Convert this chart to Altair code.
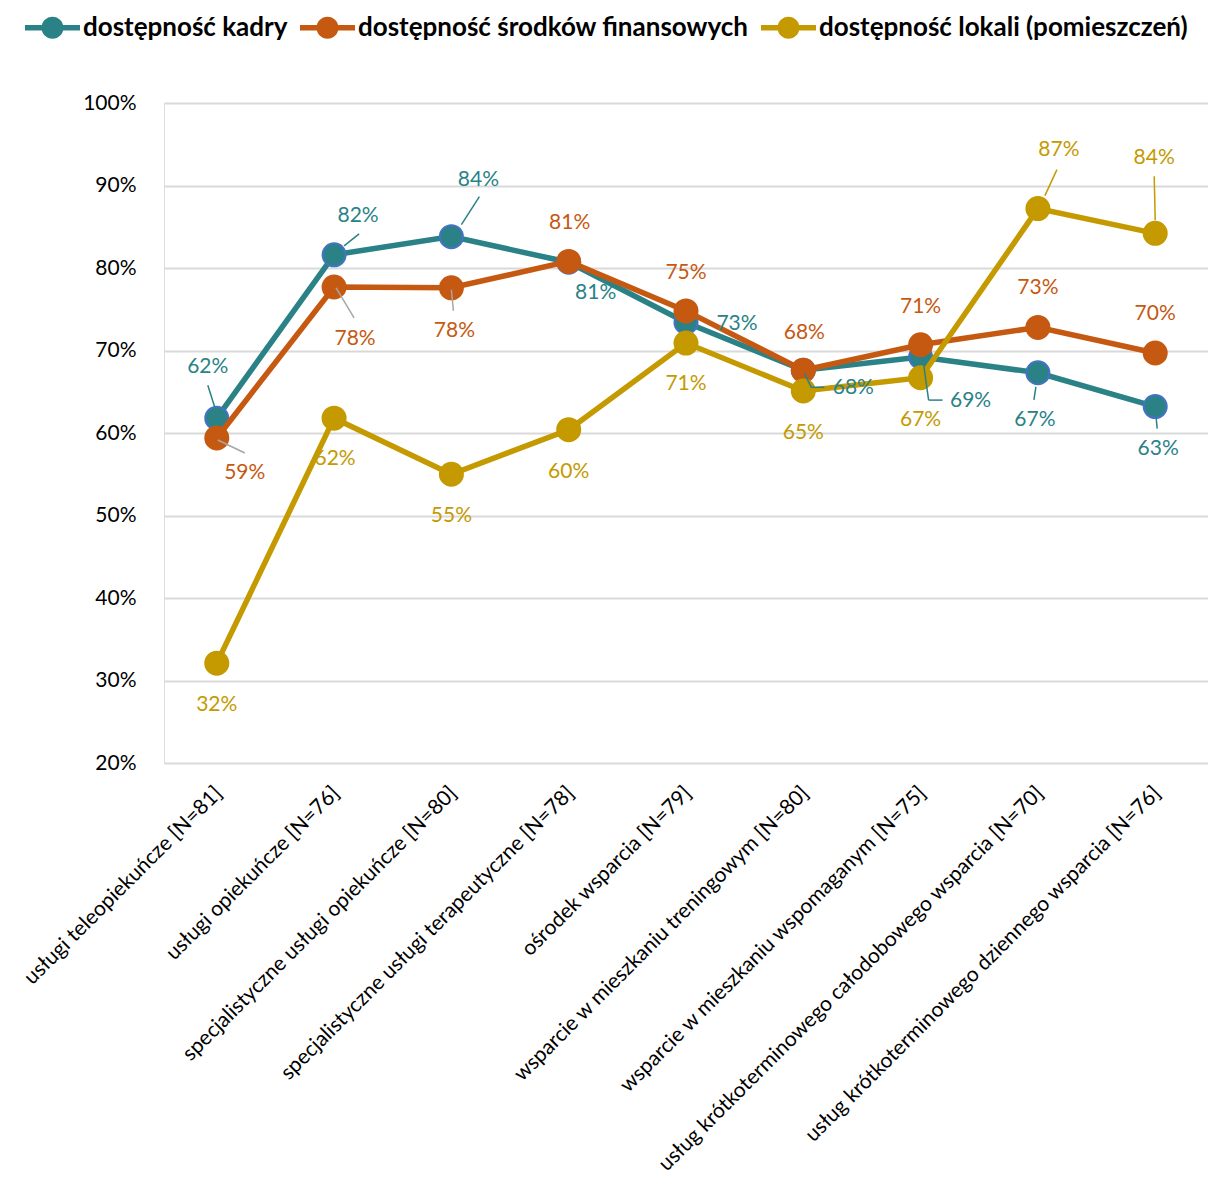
import altair as alt
import pandas as pd

categories = [
    "usługi teleopiekuńcze [N=81]",
    "usługi opiekuńcze [N=76]",
    "specjalistyczne usługi opiekuńcze [N=80]",
    "specjalistyczne usługi terapeutyczne [N=78]",
    "ośrodek wsparcia [N=79]",
    "wsparcie w mieszkaniu treningowym [N=80]",
    "wsparcie w mieszkaniu wspomaganym [N=75]",
    "usług krótkoterminowego całodobowego wsparcia [N=70]",
    "usług krótkoterminowego dziennego wsparcia [N=76]",
]
series_names = [
    "dostępność kadry",
    "dostępność środków finansowych",
    "dostępność lokali (pomieszczeń)",
]
kadry = [61.8, 81.6, 83.8, 80.7, 73.4, 67.6, 69.2, 67.3, 63.2]
finanse = [59.4, 77.7, 77.6, 80.8, 74.8, 67.6, 70.7, 72.8, 69.7]
lokale = [32.1, 61.8, 55.0, 60.4, 70.9, 65.1, 66.7, 87.2, 84.2]
y_ticks = [20, 30, 40, 50, 60, 70, 80, 90, 100]

colors = ["#2A8286", "#C65911", "#C49A00"]
marker_strokes = ["#4472C4", "#C65911", "#C49A00"]
leader_colors = ["#2A8286", "#A6A6A6", "#C49A00"]

# label offsets in pixels (dx, dy) relative to each point
label_offsets = [
    [(-9, -51), (24, -39), (27, -57), (27, 31), (51, 2), (50, 18), (50, 44), (-3, 47), (3, 42)],
    [(28, 35), (21, 52), (3, 43), (1, -38), (0, -38), (1, -37), (0, -38), (0, -39), (0, -39)],
    [(0, 42), (1, 41), (0, 42), (0, 42), (0, 41), (0, 42), (0, 42), (21, -59), (-1, -75)],
]
# leader line polylines (pixel offsets relative to the point)
leaders = {
    (0, 0): [(-9, -33), (-2, -11)],
    (0, 1): [(25, -21), (10, -9)],
    (0, 2): [(28, -40), (10, -12)],
    (0, 5): [(1, 3), (8, 17), (21, 17)],
    (0, 6): [(2, 0), (8, 43), (22, 43)],
    (0, 7): [(-2, 14), (-4, 27)],
    (0, 8): [(1, 12), (2, 22)],
    (1, 0): [(1, 2), (28, 15)],
    (1, 1): [(2, 1), (20, 31)],
    (1, 2): [(0, 2), (2, 23)],
    (2, 7): [(7, -13), (19, -39)],
    (2, 8): [(0, -13), (-1, -57)],
}

rows = []
for s, vals in zip(series_names, [kadry, finanse, lokale]):
    for i, (c, v) in enumerate(zip(categories, vals)):
        rows.append({"series": s, "cat": c, "idx": i, "v": v})
df = pd.DataFrame(rows)

FONT = "Lato"

x_enc = alt.X(
    "cat:N",
    sort=categories,
    title=None,
    scale=alt.Scale(type="point", padding=0.45),
    axis=alt.Axis(
        labelAngle=-45,
        labelFontSize=21,
        labelFont=FONT,
        labelColor="#000000",
        labelLimit=1000,
        labelPadding=19,
        labelOffset=-6,
        ticks=False,
        domain=False,
        grid=False,
    ),
)
y_enc = alt.Y(
    "v:Q",
    title=None,
    scale=alt.Scale(domain=[20, 100], nice=False, zero=False),
    axis=alt.Axis(
        values=y_ticks,
        labelExpr="datum.value + '%'",
        labelFontSize=21,
        labelFont=FONT,
        labelColor="#000000",
        labelPadding=28,
        ticks=False,
        domain=False,
        grid=True,
        gridColor="#D9D9D9",
        gridWidth=2,
    ),
)
color_scale = alt.Scale(domain=series_names, range=colors)

legend_path = (
    "M-1,-0.1H1V0.1H-1Z "
    "M-0.4,0A0.4,0.4,0,1,1,0.4,0A0.4,0.4,0,1,1,-0.4,0Z"
)
legend = alt.Legend(
    title=None,
    orient="none",
    direction="horizontal",
    legendX=-139,
    legendY=-103,
    symbolType=legend_path,
    symbolSize=3025,
    symbolStrokeWidth=0,
    symbolOpacity=1,
    labelFont=FONT,
    labelFontSize=26,
    labelFontWeight="bold",
    labelColor="#000000",
    labelOffset=3,
    columnPadding=12,
    labelLimit=1000,
)
color_enc = alt.Color("series:N", scale=color_scale, legend=legend)

base = alt.Chart(df).encode(x=x_enc, y=y_enc)
layers = []
for si, s in enumerate(series_names):
    sub = base.transform_filter(alt.datum.series == s)
    line = sub.mark_line(strokeWidth=5.5).encode(color=color_enc)
    pts = sub.mark_circle(
        size=530, opacity=1, stroke=marker_strokes[si], strokeWidth=2
    ).encode(color=color_enc)
    layers += [line, pts]

for si, s in enumerate(series_names):
    for i in range(len(categories)):
        pts = leaders.get((si, i))
        if not pts:
            continue
        for (ax, ay), (bx, by) in zip(pts[:-1], pts[1:]):
            r = (
                base.transform_filter((alt.datum.series == s) & (alt.datum.idx == i))
                .mark_rule(
                    color=leader_colors[si],
                    strokeWidth=1.5,
                    xOffset=ax,
                    yOffset=ay,
                    x2Offset=bx,
                    y2Offset=by,
                )
                .encode(x2=alt.X2("cat:N"), y2=alt.Y2("v:Q"))
            )
            layers.append(r)

for si, s in enumerate(series_names):
    for i in range(len(categories)):
        dx, dy = label_offsets[si][i]
        t = (
            base.transform_filter((alt.datum.series == s) & (alt.datum.idx == i))
            .transform_calculate(lab="format(datum.v, '.0f') + '%'")
            .mark_text(
                color=colors[si],
                font=FONT,
                fontSize=21,
                dx=dx,
                dy=dy,
                align="center",
                baseline="middle",
            )
            .encode(text="lab:N")
        )
        layers.append(t)

chart = (
    alt.layer(*layers)
    .properties(
        width=1044,
        height=660,
        autosize=alt.AutoSizeParams(type="none"),
        padding={"left": 156, "top": 95, "right": 0, "bottom": 429},
    )
    .configure_view(stroke=None)
    .configure(background="white")
)

chart.save("out.html", embed_options={"renderer": "svg", "actions": False})
